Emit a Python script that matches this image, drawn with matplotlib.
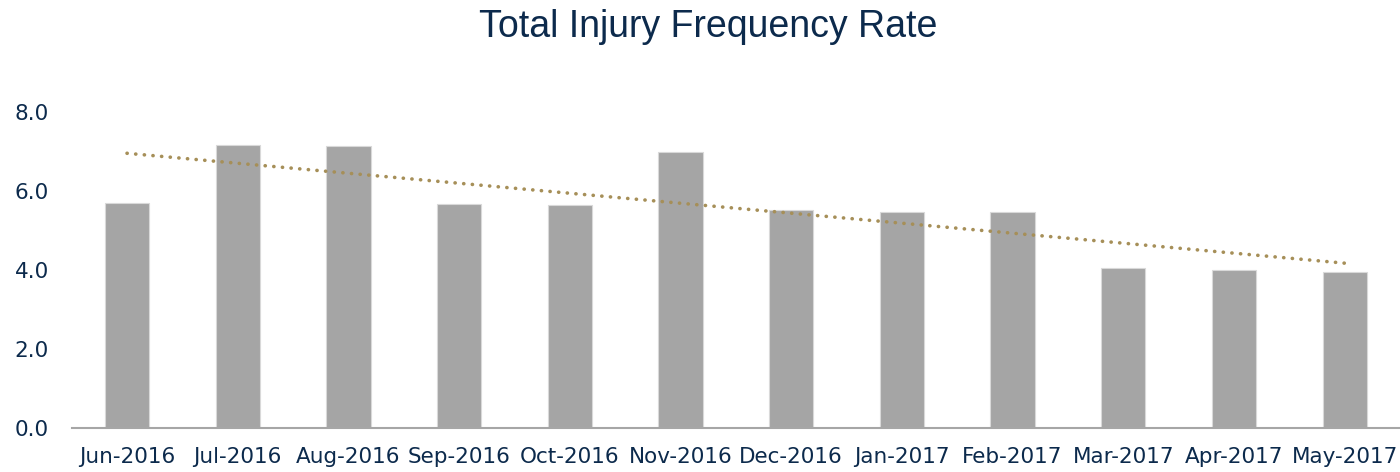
import numpy as np
import matplotlib.pyplot as plt

# monthly values
months = ["Jun-2016", "Jul-2016", "Aug-2016", "Sep-2016", "Oct-2016", "Nov-2016",
          "Dec-2016", "Jan-2017", "Feb-2017", "Mar-2017", "Apr-2017", "May-2017"]
rates = [5.70, 7.16, 7.14, 5.67, 5.65, 6.99, 5.52, 5.47, 5.47, 4.05, 4.00, 3.95]
yticks = [0.0, 2.0, 4.0, 6.0, 8.0]

navy = "#0c2a4c"

fig = plt.figure(figsize=(14, 4.72), dpi=100)
ax = fig.add_axes([0.0512, 0.0932, 0.9488, 0.6695])

x = np.arange(len(months))
ax.bar(x, rates, width=0.4, color="#a5a5a5", edgecolor="#d9d9d9", linewidth=0.8, zorder=2)

# linear trend line
slope, icpt = np.polyfit(x, rates, 1)
ax.plot(x, slope * x + icpt, color="#a68f58", linewidth=2.6,
        linestyle=(0, (0.05, 2.35)), dash_capstyle="round", zorder=3)

ax.set_xlim(-0.5, len(months) - 0.5)
ax.set_ylim(0, 8)
ax.set_xticks(x)
ax.set_xticklabels(months, fontsize=15.5, color=navy, family="DejaVu Sans")
ax.set_yticks(yticks)
ax.set_yticklabels([f"{v:.1f}" for v in yticks], fontsize=15.5, color=navy, family="DejaVu Sans")
ax.tick_params(length=0)
ax.tick_params(axis="x", pad=14)
ax.tick_params(axis="y", pad=16.5)

for side in ["top", "right", "left"]:
    ax.spines[side].set_visible(False)
ax.spines["bottom"].set_color("#a6a6a6")
ax.spines["bottom"].set_linewidth(1.5)

fig.text(0.506, 0.942, "Total Injury Frequency Rate", ha="center", va="center",
         fontsize=27, color=navy, family="Liberation Sans")

fig.savefig("out.png", dpi=100)
